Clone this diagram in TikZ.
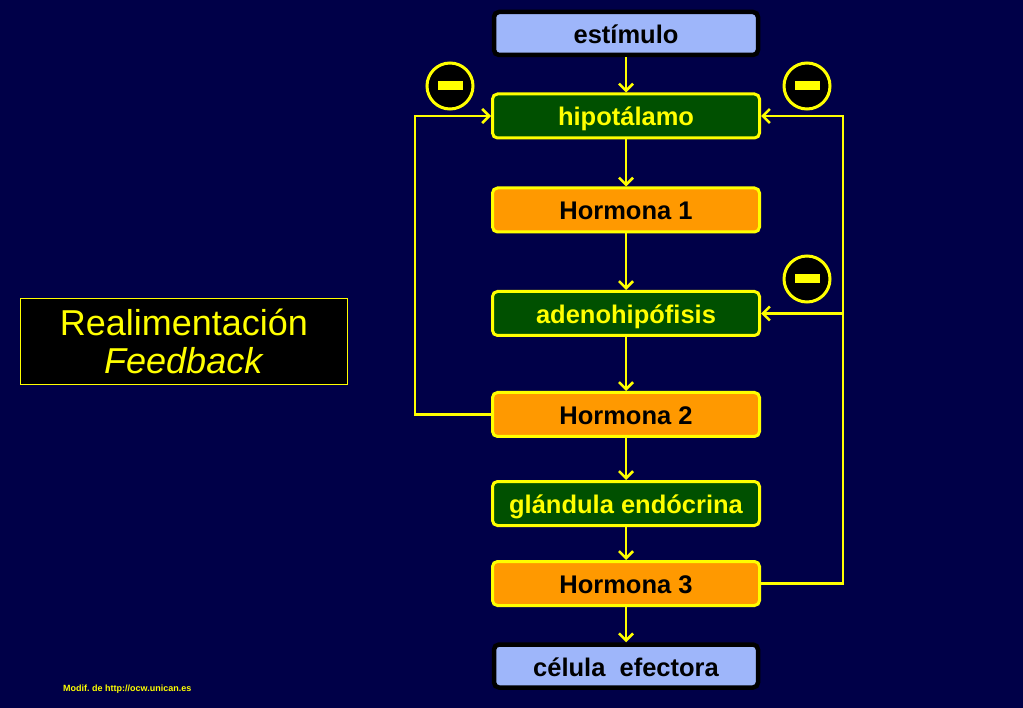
\documentclass[tikz,border=0pt]{standalone}
\usepackage{fontspec}
\setmainfont{Liberation Sans}
\usetikzlibrary{arrows.meta,positioning}
\definecolor{bgnavy}{RGB}{0,0,72}
\definecolor{ylw}{RGB}{255,255,0}
\definecolor{boxgreen}{RGB}{0,80,0}
\definecolor{boxorange}{RGB}{255,153,0}
\definecolor{boxblue}{RGB}{158,182,250}
\tikzset{
  flowbox/.style={rectangle, rounded corners=5pt, minimum width=267pt, minimum height=44pt, line width=3pt, draw=ylw, font=\fontsize{25.5}{27}\selectfont\bfseries, inner sep=0pt, text height=21pt, text depth=1pt},
  greenbox/.style={flowbox, fill=boxgreen, text=ylw},
  orangebox/.style={flowbox, fill=boxorange, text=black},
  endbox/.style={flowbox, fill=boxblue, draw=black, line width=4.5pt, minimum width=264pt, minimum height=43pt, text=black},
  minuscirc/.style={circle, minimum size=46pt, inner sep=0pt, fill=black, draw=ylw, line width=3pt},
  conn/.style={draw=ylw, line width=2.6pt},
  arr/.style={conn, -{Straight Barb[length=7pt,width=14pt,line width=2.6pt]}},
}
\begin{document}
\begin{tikzpicture}[x=1pt,y=-1pt]
\fill[bgnavy] (0,0) rectangle (1023,708);
\useasboundingbox (0,0) rectangle (1023,708);

\node[endbox] (est) at (626,33.5) {estímulo};
\node[greenbox] (hip) at (626,116) {hipotálamo};
\node[orangebox] (h1) at (626,210) {Hormona 1};
\node[greenbox] (adh) at (626,313.5) {adenohipófisis};
\node[orangebox] (h2) at (626,414.5) {Hormona 2};
\node[greenbox] (gla) at (626,503.5) {glándula endócrina};
\node[orangebox] (h3) at (626,583.5) {Hormona 3};
\node[endbox] (cel) at (626,666) {célula\ \ efectora};

\draw[arr] (est) -- (hip);
\draw[arr] (hip) -- (h1);
\draw[arr] (h1) -- (adh);
\draw[arr] (adh) -- (h2);
\draw[arr] (h2) -- (gla);
\draw[arr] (gla) -- (h3);
\draw[arr] (h3) -- (cel);

\coordinate (lft) at (415,414.5);
\coordinate (rgt) at (843,583.5);
\coordinate (rbr) at (843,313.5);
\draw[arr] (h2.west) -- (lft) |- (hip.west);
\draw[arr] (h3.east) -- (rgt) |- (hip.east);
\draw[arr] (rbr) -- (adh.east);

\node[minuscirc] (m1) at (450,86) {\textcolor{ylw}{\rule{25pt}{9pt}}};
\node[minuscirc] (m2) at (807,86) {\textcolor{ylw}{\rule{25pt}{9pt}}};
\node[minuscirc] (m3) at (807,279) {\textcolor{ylw}{\rule{25pt}{9pt}}};

\node[rectangle, fill=black, draw=ylw, line width=1pt, minimum width=327pt, minimum height=86pt, text=ylw, align=center, font=\fontsize{36}{38}\selectfont, inner sep=0pt] (title) at (184,341.5) {Realimentación\\\textit{Feedback}};

\node[anchor=west, text=ylw, font=\fontsize{9}{10}\selectfont\bfseries, inner sep=0pt] (foot) at (63,689) {\frenchspacing Modif. de http://ocw.unican.es};
\end{tikzpicture}
\end{document}
